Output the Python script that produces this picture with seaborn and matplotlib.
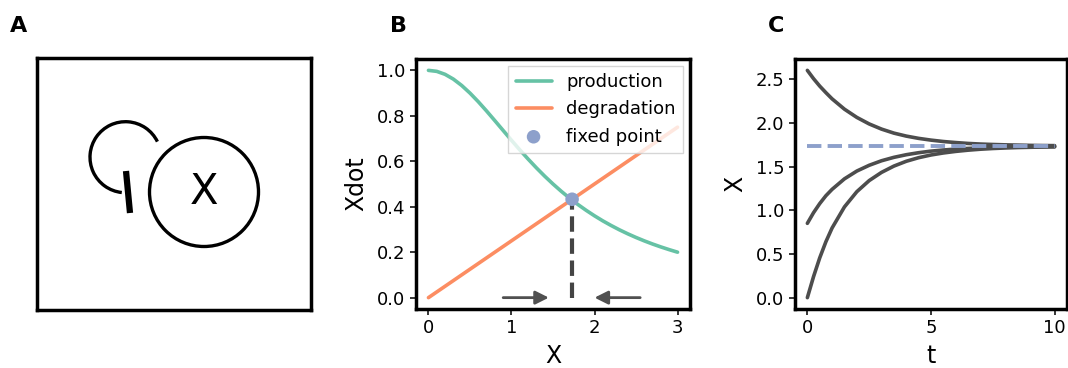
import numpy as np
import pandas as pd
import matplotlib
matplotlib.use("Agg")
import matplotlib.pyplot as plt
import seaborn as sns
from matplotlib.patches import Circle, Arc
from matplotlib.lines import Line2D

# ---------------- data ----------------
x_vals = [0.0, 0.1, 0.2, 0.3, 0.4, 0.5, 0.6, 0.7, 0.8, 0.9, 1.0,
          1.1, 1.2, 1.3, 1.4, 1.5, 1.6, 1.7, 1.8, 1.9, 2.0,
          2.1, 2.2, 2.3, 2.4, 2.5, 2.6, 2.7, 2.8, 2.9, 3.0]
production = [1.0, 0.9956, 0.9825, 0.9615, 0.9336, 0.9, 0.8621, 0.8212, 0.7785, 0.7353, 0.6923,
              0.6503, 0.6098, 0.5711, 0.5344, 0.5, 0.4678, 0.4377, 0.4098, 0.3840, 0.36,
              0.3378, 0.3174, 0.2984, 0.2809, 0.2647, 0.2497, 0.2358, 0.2230, 0.2111, 0.2]
deg_x = [0.0, 3.0]
degradation = [0.0, 0.75]
fixed_x = [1.73]
fixed_y = [0.433]

t_vals = [0, 0.25, 0.5, 0.75, 1, 1.5, 2, 2.5, 3, 3.5, 4, 4.5, 5, 5.5,
          6, 6.5, 7, 7.5, 8, 8.5, 9, 9.5, 10]
traj_high = [2.6, 2.505, 2.42, 2.345, 2.274, 2.156, 2.062, 1.987, 1.928, 1.882, 1.848, 1.822,
             1.802, 1.786, 1.774, 1.764, 1.757, 1.752, 1.748, 1.745, 1.742, 1.740, 1.739]
traj_mid = [0.85, 0.972, 1.076, 1.166, 1.239, 1.359, 1.448, 1.514, 1.566, 1.605, 1.635, 1.658,
            1.676, 1.689, 1.699, 1.707, 1.713, 1.717, 1.721, 1.723, 1.725, 1.727, 1.728]
traj_low = [0.0, 0.2405, 0.455, 0.640, 0.797, 1.038, 1.212, 1.339, 1.433, 1.505, 1.560, 1.601,
            1.632, 1.655, 1.673, 1.687, 1.698, 1.706, 1.712, 1.717, 1.720, 1.723, 1.725]
t_span = [0, 10]
fixed_level = [1.73, 1.73]

# ---------------- style ----------------
sns.set_style("ticks")
plt.rcParams["font.family"] = ["DejaVu Sans"]
plt.rcParams["text.color"] = "black"
plt.rcParams["axes.labelcolor"] = "black"
plt.rcParams["axes.linewidth"] = 2.5
plt.rcParams["axes.edgecolor"] = "black"
plt.rcParams["xtick.labelsize"] = 13
plt.rcParams["ytick.labelsize"] = 13
plt.rcParams["axes.labelsize"] = 17
plt.rcParams["xtick.major.width"] = 1.1
plt.rcParams["ytick.major.width"] = 1.1
plt.rcParams["xtick.major.size"] = 4
plt.rcParams["ytick.major.size"] = 4
plt.rcParams["xtick.color"] = "black"
plt.rcParams["ytick.color"] = "black"

GREEN, ORANGE, BLUE = sns.color_palette("Set2")[:3]
DARK = "#4d4d4d"

W, H = 1068, 368
fig = plt.figure(figsize=(W / 100, H / 100), dpi=100)

def rect(l, r, t, b):
    return [l / W, (H - b) / H, (r - l) / W, (b - t) / H]

axA = fig.add_axes(rect(37, 311, 58, 310))
axB = fig.add_axes(rect(416, 690, 59, 309))
axC = fig.add_axes(rect(795, 1067, 59, 309))

# ---------------- Panel A: schematic ----------------
axA.set_xlim(0, 274)
axA.set_ylim(0, 252)
axA.set_xticks([])
axA.set_yticks([])
axA.add_patch(Circle((167, 118), 54.5, fill=False, lw=2.4, ec="black"))
axA.text(167, 118, "X", ha="center", va="center", fontsize=30)
axA.add_patch(Arc((88.5, 152.8), 71, 71, theta1=26, theta2=264, lw=2.4, color="black"))
axA.add_line(Line2D([89, 93], [139, 97], lw=4.5, color="black", solid_capstyle="butt"))

# ---------------- Panel B ----------------
sns.lineplot(x=x_vals, y=production, ax=axB, color=GREEN, lw=2.6, label="production")
sns.lineplot(x=deg_x, y=degradation, ax=axB, color=ORANGE, lw=2.6, label="degradation")
sns.scatterplot(x=fixed_x, y=fixed_y, ax=axB, color=BLUE, s=95, edgecolor="none",
                label="fixed point", zorder=5)
axB.plot([fixed_x[0], fixed_x[0]], [0, fixed_y[0]], ls="--", color="#444444", lw=3, zorder=4)
axB.annotate("", xy=(1.45, 0), xytext=(0.9, 0),
             arrowprops=dict(arrowstyle="-|>", color="#505050", lw=2, mutation_scale=20,
                             shrinkA=0, shrinkB=0))
axB.annotate("", xy=(2.0, 0), xytext=(2.55, 0),
             arrowprops=dict(arrowstyle="-|>", color="#505050", lw=2, mutation_scale=20,
                             shrinkA=0, shrinkB=0))
axB.set_xlim(-0.15, 3.15)
axB.set_ylim(-0.05, 1.05)
axB.set_xticks([0, 1, 2, 3])
axB.set_yticks([0.0, 0.2, 0.4, 0.6, 0.8, 1.0])
axB.set_xlabel("X", labelpad=5)
axB.set_ylabel("Xdot", labelpad=6)
leg = axB.legend(loc="upper right", fontsize=13, fancybox=False, framealpha=0.8,
                 edgecolor="0.8", borderaxespad=0.4, handlelength=2.0)
leg.get_frame().set_linewidth(1.0)

# ---------------- Panel C ----------------
for traj in (traj_high, traj_mid, traj_low):
    sns.lineplot(x=t_vals, y=traj, ax=axC, color=DARK, lw=2.6)
sns.lineplot(x=t_span, y=fixed_level, ax=axC, color=BLUE, lw=2.8, linestyle="--", zorder=5)
axC.set_xlim(-0.5, 10.5)
axC.set_ylim(-0.13, 2.73)
axC.set_xticks([0, 5, 10])
axC.set_yticks([0.0, 0.5, 1.0, 1.5, 2.0, 2.5])
axC.set_xlabel("t", labelpad=5)
axC.set_ylabel("X", labelpad=6)

for ax in (axA, axB, axC):
    for s in ax.spines.values():
        s.set_visible(True)
        s.set_linewidth(2.5)

# panel labels
for lab, xp in (("A", 10), ("B", 390), ("C", 768)):
    fig.text(xp / W, 1 - 16 / H, lab, fontsize=16, fontweight="bold", ha="left", va="top")

fig.savefig("out.png", dpi=100)
